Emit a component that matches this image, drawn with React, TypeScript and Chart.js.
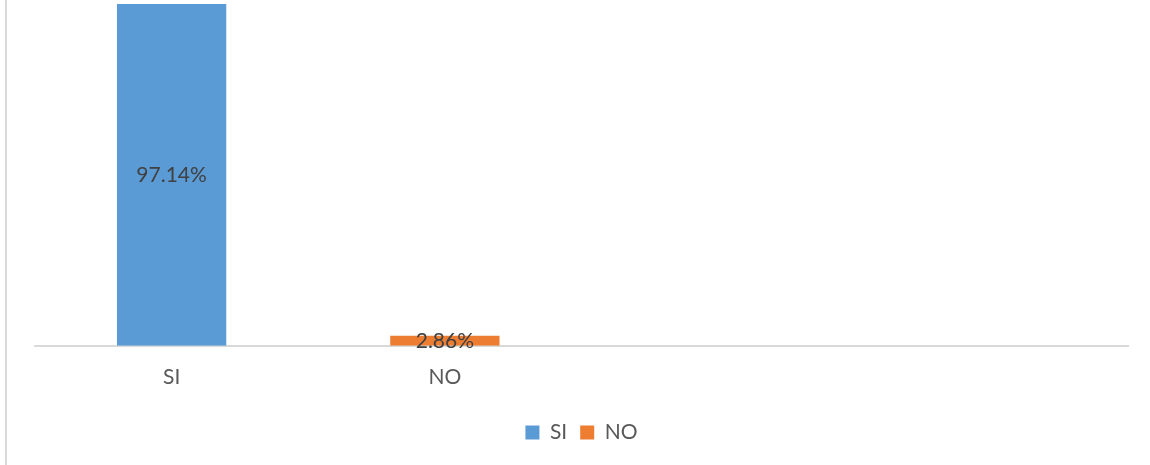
import React, { useEffect, useRef } from "react";
import { Chart, registerables } from "chart.js";

Chart.register(...registerables);

const categories = ["SI", "NO", "", ""];
const seriesNames = ["SI", "NO"];
const siValues = [97.14, null, null, null];
const noValues = [null, 2.86, null, null];
const valueLabels = ["97.14%", "2.86%"];

const FONT = "Lato, 'Open Sans', sans-serif";

const barLabelPlugin = {
  id: "barLabels",
  afterDatasetsDraw(chart: any) {
    const ctx = chart.ctx;
    ctx.save();
    ctx.font = `21px ${FONT}`;
    ctx.fillStyle = "#404040";
    ctx.textAlign = "center";
    ctx.textBaseline = "middle";
    chart.data.datasets.forEach((ds: any, di: number) => {
      const meta = chart.getDatasetMeta(di);
      meta.data.forEach((el: any, i: number) => {
        const v = ds.data[i];
        if (v === null || v === undefined) return;
        const { x, y, base } = el.getProps(["x", "y", "base"], true);
        ctx.fillText(valueLabels[di], x, (y + base) / 2);
      });
    });
    ctx.restore();
  },
};

export default function App() {
  const ref = useRef<HTMLCanvasElement>(null);
  useEffect(() => {
    if (!ref.current) return;
    const chart = new Chart(ref.current, {
      type: "bar",
      data: {
        labels: categories,
        datasets: [
          { label: seriesNames[0], data: siValues, backgroundColor: "#5B9BD5" },
          { label: seriesNames[1], data: noValues, backgroundColor: "#ED7D31" },
        ],
      },
      options: {
        animation: false,
        responsive: false,
        maintainAspectRatio: false,
        grouped: false,
        categoryPercentage: 1,
        barPercentage: 0.4,
        layout: { padding: { left: 35, right: 22, top: 0, bottom: 12 } },
        scales: {
          x: {
            grid: { display: false, drawTicks: false },
            border: { display: true, color: "#d9d9d9", width: 2 },
            ticks: {
              padding: 19,
              color: "#595959",
              font: { family: FONT, size: 21 },
              maxRotation: 0,
            },
          },
          y: {
            display: false,
            min: 0,
            max: 100,
          },
        },
        plugins: {
          legend: {
            position: "bottom",
            labels: {
              boxWidth: 14,
              boxHeight: 14,
              padding: 13,
              color: "#595959",
              font: { family: FONT, size: 21 },
            },
          },
          tooltip: { enabled: false },
        },
      } as any,
      plugins: [barLabelPlugin],
    });
    return () => chart.destroy();
  }, []);
  return (
    <div style={{ position: "absolute", left: 0, top: 0, width: 1150, height: 465, overflow: "hidden", background: "#fff" }}>
      <div style={{ position: "absolute", left: 5, top: 0, width: 2, height: 465, background: "#d9d9d9" }} />
      <canvas ref={ref} width={1150} height={471} style={{ position: "absolute", left: 0, top: -6, width: 1150, height: 471 }} />
    </div>
  );
}
